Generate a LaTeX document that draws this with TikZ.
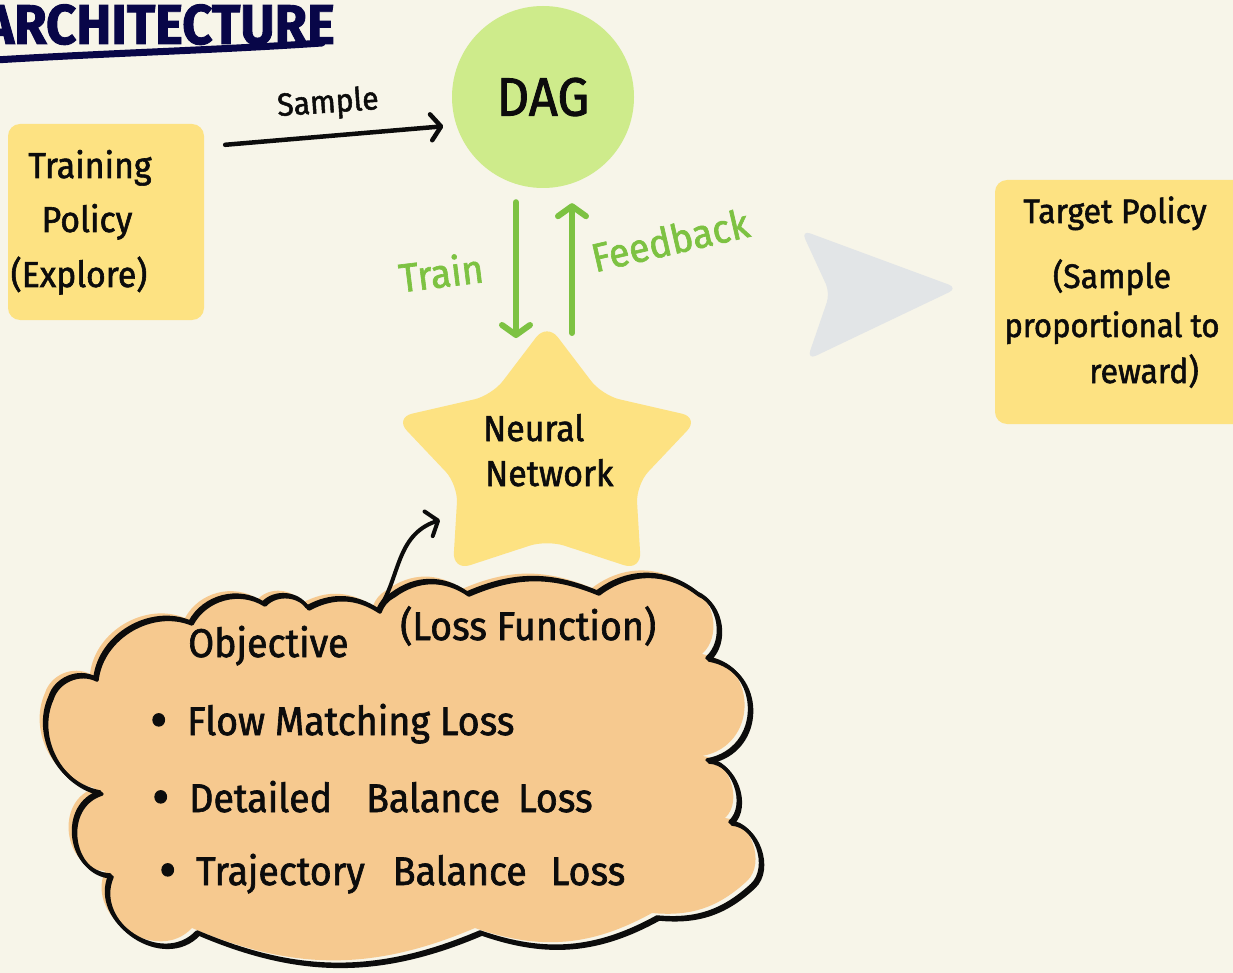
\documentclass[tikz,border=0pt]{standalone}
\usepackage{fontspec}
\setmainfont{Fira Sans}
\newfontfamily\hand[FakeStretch=0.94, FakeBold=1.6]{Fira Sans}
\usetikzlibrary{arrows.meta,calc}

\definecolor{paper}{RGB}{247,245,233}
\definecolor{navy}{RGB}{8,6,72}
\definecolor{note}{RGB}{253,226,130}
\definecolor{dagfill}{RGB}{206,235,139}
\definecolor{leaf}{RGB}{125,194,66}
\definecolor{peach}{RGB}{246,201,143}
\definecolor{mist}{RGB}{226,229,231}
\definecolor{ink}{RGB}{12,12,12}

\newcommand\hsz[1]{\fontsize{#1}{#1}\selectfont}
\newcommand\bul{\raisebox{-4pt}{\scalebox{1.4}{\textbullet}}\hspace{20pt}}

% outline of the objective cloud: dents joined by outward bumps
\newcommand\cloudshape[1]{%
  \path[#1] (50,697) to[bend left=50] (95,678)
    to[bend left=53] (190,622)
    to[bend left=47] (263,603)
    to[bend left=52] (307,607)
    to[bend left=31] (378,610)
    to[bend left=20] (392,594)
    to[bend left=36] (467,593)
    to[bend left=23] (597,592)
    to[bend left=38] (697,593)
    to[bend left=57] (707,658)
    to[bend left=80, looseness=1.45] (707,760)
    to[bend left=68] (730,822)
    to[bend left=66] (752,885)
    to[bend left=24] (657,917)
    to[bend left=24] (480,932)
    to[bend left=23] (197,932)
    to[bend left=80, looseness=1.25] (110,875)
    to[bend left=80, looseness=1.3] (100,792)
    to[bend left=52] (50,697) -- cycle;}

\begin{document}
\begin{tikzpicture}[x=1pt, y=-1pt,
  every node/.style={font=\hand, text=ink, inner sep=0pt},
  notebox/.style={fill=note, rounded corners=12pt},
  boxtext/.style={anchor=base, font=\hand\hsz{36}},
  cloudtext/.style={anchor=base west, font=\hand\hsz{40}},
  inkarrow/.style={draw=ink, line width=4.5pt, line cap=round,
    -{Straight Barb[length=10pt, width=26pt, round]}},
  leafarrow/.style={draw=leaf, line width=6pt, line cap=round,
    -{Straight Barb[length=10pt, width=28pt, round]}},
  leaflabel/.style={text=leaf, font=\hand\hsz{40}}]

\useasboundingbox (0,0) rectangle (1233,973);
\fill[paper] (0,0) rectangle (1233,973);

% heading
\node[anchor=base east, font=\hand\bfseries\hsz{56}, text=navy] (title) at (335,44) {ARCHITECTURE};
\draw[navy, line width=7pt, line cap=round] (-5,60) .. controls (110,53) and (220,50) .. (322,43);

% training policy
\node[notebox, minimum width=196pt, minimum height=196pt] (tp) at (106,222) {};
\node[boxtext] (tp1) at (90,178) {Training};
\node[boxtext] (tp2) at (87,232) {Policy};
\node[boxtext] (tp3) at (79,287) {(Explore)};

% DAG
\node[circle, fill=dagfill, minimum size=182pt, font=\hand\hsz{54}] (dag) at (543,97) {DAG};

\draw[inkarrow, shorten >=13pt] ($(tp.north east)+(21,21)$) -- (dag.198);
\node[font=\hand\hsz{32}, rotate=4] (samplelbl) at (328,104) {Sample};

% neural network star
\fill[note, rounded corners=18pt] (547,323) -- (602,395.3) -- (699.4,417.7) -- (636,484.7)
  -- (641.2,570.8) -- (547,540) -- (452.8,570.8) -- (458,484.7) -- (394.6,417.7)
  -- (492,395.3) -- cycle;
\coordinate (nntop) at (547,323);
\coordinate (nnleft) at (455,520);
\node[anchor=base west, font=\hand\hsz{36}] (nn1) at (483,441) {Neural};
\node[anchor=base west, font=\hand\hsz{36}] (nn2) at (485,486) {Network};

\draw[leafarrow] ($(dag.south)+(-27,14)$) -- ($(nntop)+(-31,15)$);
\draw[leafarrow] ($(nntop)+(25,10)$) -- ($(dag.south)+(29,15)$);
\node[leaflabel, rotate=7] (trainlbl) at (441,272) {Train};
\node[leaflabel, rotate=13] (fblbl) at (670,240) {Feedback};

% big pointer and target policy
\fill[mist, rounded corners=10pt] (801,230) -- (958,288) -- (807,360) -- (830,293) -- cycle;
\node[notebox, minimum width=250pt, minimum height=244pt] (tgt) at (1120,302) {};
\node[boxtext, font=\hand\hsz{34}] (tg1) at (1115,223) {Target Policy};
\node[boxtext, font=\hand\hsz{34}] (tg2) at (1112,288) {(Sample};
\node[boxtext, font=\hand\hsz{33}] (tg3) at (1112,337) {proportional to};
\node[boxtext, font=\hand\hsz{34}] (tg4) at (1144,383) {reward)};

% objective cloud
\cloudshape{fill=peach, shift={(-5,-4)}}
\cloudshape{draw=ink, line width=3.5pt, line join=round}
\cloudshape{draw=ink, line width=3.5pt, line join=round, shift={(2,2)}}
\coordinate (cloudtip) at (378,610);

\node[cloudtext] (obj) at (188,657) {Objective};
\node[cloudtext] (lossfn) at (400,640) {(Loss Function)};
\node[cloudtext] (b1) at (150,735) {\bul Flow Matching Loss};
\node[cloudtext] (b2) at (152,812) {\bul Detailed\hspace{34pt}Balance\hspace{18pt}Loss};
\node[cloudtext] (b3) at (159,885) {\bul Trajectory\hspace{28pt}Balance\hspace{24pt}Loss};

\draw[inkarrow, line width=4pt] (cloudtip) .. controls (400,580) and (395,535) .. ($(nnleft)+(-15,0)$);

\end{tikzpicture}
\end{document}
